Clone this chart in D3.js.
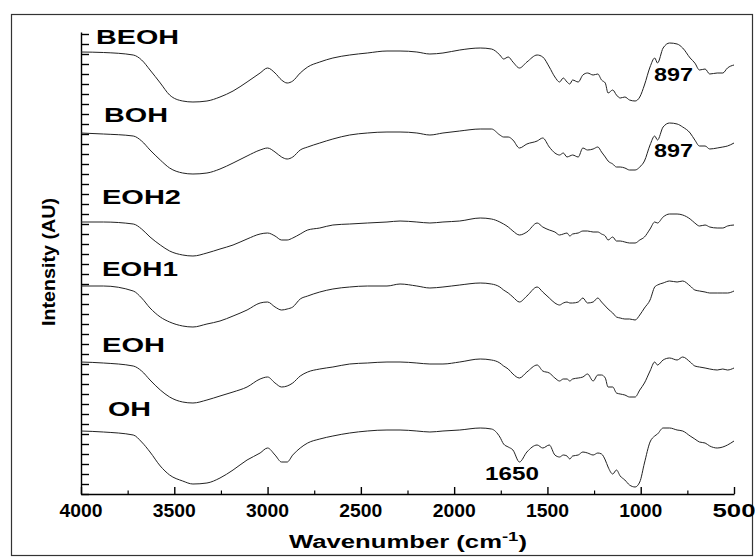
<!DOCTYPE html>
<html>
<head>
<meta charset="utf-8">
<script src="https://cdn.jsdelivr.net/npm/d3@7"></script>
<style>
  html, body { margin: 0; padding: 0; background: #fff; }
  svg { display: block; }
  text { font-family: "Liberation Sans", Arial, sans-serif; fill: #000; }
</style>
</head>
<body>
<svg id="chart" width="755" height="558"></svg>
<script>
// ---- Data ----
const wavenumbers = [4000,3880,3720,3675,3630,3575,3525,3455,3400,3325,
  3255,3185,3110,3040,3000,2960,2925,2895,2865,2825,
  2785,2720,2650,2560,2465,2360,2290,2200,2130,2060,
  1970,1860,1800,1755,1735,1710,1685,1650,1610,1555,
  1525,1490,1460,1435,1415,1395,1380,1365,1335,1310,
  1285,1255,1230,1210,1190,1175,1150,1130,1110,1085,
  1060,1030,1005,980,950,925,910,880,845,805,
  775,735,710,685,655,630,590,560,535,500];

const BEOH = [44.2,44.15,43.9,43.4,42.4,41.1,39.9,39.3,39.2,39.3,
  39.7,40.3,41.2,42.1,42.6,42.1,41.4,41.1,41.3,42.1,
  42.7,43.2,43.6,43.9,44.1,44.3,44.3,44.2,44.0,44.1,
  44.4,44.6,44.5,43.9,43.5,43.7,43.2,42.6,43.2,43.9,
  43.7,42.7,41.7,41.2,41.6,41.2,41.0,41.4,41.2,41.9,
  42.1,41.9,42.0,41.4,41.1,40.1,40.4,39.9,39.6,39.7,
  39.4,39.3,39.7,40.9,42.7,43.6,43.1,44.6,45.1,45.0,
  44.6,43.6,43.1,42.4,42.5,42.0,42.1,42.1,42.6,42.9];

const BOH = [36.1,36.0,35.8,35.3,34.4,33.4,32.6,32.1,32.0,32.1,
  32.5,33.1,33.8,34.4,34.6,34.2,33.7,33.5,33.7,34.4,
  34.7,35.1,35.5,35.9,36.1,36.2,36.2,36.1,35.9,36.1,
  36.3,36.5,36.5,35.9,35.7,35.7,35.4,34.6,35.0,35.3,
  35.6,34.7,34.1,33.9,34.1,33.7,33.8,33.9,33.7,34.6,
  34.4,34.5,34.7,34.2,33.7,33.3,33.0,32.7,32.7,32.6,
  32.4,32.4,32.7,33.3,34.9,35.8,35.4,36.7,37.1,37.0,
  36.7,36.1,35.4,34.8,34.8,34.5,34.6,34.7,34.8,35.1];

const EOH2 = [27.2,27.2,27.0,26.5,25.7,24.9,24.3,23.9,23.8,24.1,
  24.5,24.9,25.5,26.0,26.1,25.8,25.4,25.4,25.6,26.0,
  26.4,26.6,26.9,27.0,27.1,27.2,27.3,27.2,27.1,27.2,
  27.3,27.6,27.5,27.2,27.0,26.7,26.3,25.9,26.2,27.1,
  26.7,26.4,26.2,25.9,26.0,26.1,25.8,26.0,26.1,26.3,
  26.3,26.2,26.2,26.0,25.8,25.4,25.7,25.3,25.3,25.2,
  25.1,25.1,25.4,25.7,26.5,27.2,27.1,27.7,28.0,28.0,
  27.9,27.5,27.1,26.8,26.9,26.7,26.6,26.6,26.8,26.9];

const EOH1 = [20.8,20.8,20.3,19.6,18.6,17.7,17.2,16.8,16.7,17.0,
  17.3,17.8,18.4,19.1,19.2,18.7,18.4,18.5,18.7,19.5,
  19.8,20.2,20.5,20.7,20.8,20.8,21.0,20.8,20.6,20.7,
  20.9,21.1,21.0,20.7,20.4,20.1,19.7,19.2,19.8,20.7,
  20.2,19.6,19.1,18.9,19.1,19.2,19.1,19.1,19.2,19.6,
  19.1,19.2,19.6,19.2,18.8,18.5,18.1,17.7,17.6,17.5,
  17.5,17.4,17.9,18.6,19.4,20.7,20.9,21.1,21.3,21.2,
  21.3,20.8,20.4,20.3,20.2,20.1,20.1,20.1,20.1,20.3];

const EOH = [13.2,13.1,12.8,12.3,11.4,10.4,9.7,9.2,9.1,9.4,
  9.8,10.2,10.7,11.5,11.7,11.1,10.7,10.8,11.1,11.8,
  12.2,12.5,12.7,13.0,13.1,13.2,13.2,13.1,13.0,13.0,
  13.2,13.5,13.4,13.1,12.8,12.5,12.0,11.6,12.2,12.9,
  12.3,12.1,11.6,11.3,11.5,11.5,11.3,11.5,11.6,11.7,
  12.0,11.3,11.9,11.9,11.6,10.7,10.7,10.1,10.0,9.9,
  9.7,9.7,10.4,11.1,12.3,13.2,12.9,13.4,13.6,13.4,
  13.7,13.2,12.8,12.7,12.6,12.5,12.4,12.5,12.4,12.6];

const OH = [6.3,6.2,5.9,5.2,4.2,2.8,1.9,1.3,1.0,1.1,
  1.6,2.4,3.4,4.1,4.6,3.9,3.2,3.2,3.9,4.6,
  5.1,5.5,5.8,6.1,6.3,6.4,6.4,6.3,6.2,6.3,
  6.4,6.6,6.5,5.7,5.0,4.7,4.4,3.2,4.2,4.9,
  4.6,4.9,3.9,3.7,3.9,3.8,3.5,3.8,3.9,4.2,
  4.1,3.9,4.1,4.0,3.4,2.7,2.0,2.4,1.8,1.4,
  0.9,0.7,1.2,3.1,5.2,5.8,6.0,6.6,6.6,6.4,
  6.3,5.8,5.5,5.2,5.1,4.8,4.6,4.7,4.9,5.3];

const seriesNames = ["BEOH", "BOH", "EOH2", "EOH1", "EOH", "OH"];
const seriesValues = [BEOH, BOH, EOH2, EOH1, EOH, OH];
const xTickValues = [4000, 3500, 3000, 2500, 2000, 1500, 1000, 500];
const xMinorTicks = [3750, 3250, 2750, 2250, 1750, 1250, 750];
const yTickValues = d3.range(0, 47, 1);

// ---- Layout ----
const svg = d3.select("#chart");
const L = 81, R = 734, T = 32, B = 494;

const x = d3.scaleLinear().domain([4000, 500]).range([L, R]);
const y = d3.scaleLinear().domain([0, 46.2]).range([B, T]);

// outer frame
svg.append("rect")
  .attr("x", 11.5).attr("y", 14.5).attr("width", 741).attr("height", 541)
  .attr("fill", "none").attr("stroke", "#333").attr("stroke-width", 1.2);

// bottom axis (major ticks)
const xAxis = d3.axisBottom(x).tickValues(xTickValues).tickSizeInner(-7).tickSizeOuter(0).tickFormat("");
const gx = svg.append("g").attr("transform", `translate(0,${B})`).call(xAxis);
gx.selectAll("path, line").attr("stroke", "#000").attr("stroke-width", 1.4);
// minor ticks
const xMinor = d3.axisBottom(x).tickValues(xMinorTicks).tickSizeInner(-3.5).tickSizeOuter(0).tickFormat("");
const gxm = svg.append("g").attr("transform", `translate(0,${B})`).call(xMinor);
gxm.select("path").remove();
gxm.selectAll("line").attr("stroke", "#000").attr("stroke-width", 1.2);

// tick labels
svg.append("g").selectAll("text").data(xTickValues).join("text")
  .attr("x", d => x(d)).attr("y", 517)
  .attr("text-anchor", "middle")
  .attr("font-size", 18).attr("font-weight", "bold")
  .attr("textLength", 43).attr("lengthAdjust", "spacingAndGlyphs")
  .text(d => d);

// left axis
const yAxis = d3.axisLeft(y).tickValues(yTickValues).tickSizeInner(-8).tickSizeOuter(0).tickFormat("");
const gy = svg.append("g").attr("transform", `translate(${L},0)`).call(yAxis);
gy.selectAll("path, line").attr("stroke", "#000").attr("stroke-width", 1.4);

// axis titles
const xt = svg.append("text")
  .attr("x", 408).attr("y", 548)
  .attr("text-anchor", "middle")
  .attr("font-size", 18).attr("font-weight", "bold");
xt.append("tspan").text("Wavenumber (cm");
xt.append("tspan").attr("font-size", 13).attr("dy", -7).text("-1");
xt.append("tspan").attr("dy", 7).text(")");
xt.attr("textLength", 238).attr("lengthAdjust", "spacingAndGlyphs");

svg.append("text")
  .attr("transform", "translate(55,262) rotate(-90)")
  .attr("text-anchor", "middle")
  .attr("font-size", 18).attr("font-weight", "bold")
  .attr("textLength", 128).attr("lengthAdjust", "spacingAndGlyphs")
  .text("Intensity (AU)");

// curves
const line = d3.line()
  .x((d, i) => x(wavenumbers[i]))
  .y(d => y(d))
  .curve(d3.curveMonotoneX);

svg.append("g").selectAll("path").data(seriesValues).join("path")
  .attr("d", d => line(d))
  .attr("fill", "none").attr("stroke", "#222").attr("stroke-width", 1);

// series labels
const labelX = [96, 104, 102, 102, 102, 108];
const labelY = [44, 122, 204, 276, 352, 416];
const labelW = [83, 64, 79, 76, 63, 43];
svg.append("g").selectAll("text").data(seriesNames).join("text")
  .attr("x", (d, i) => labelX[i]).attr("y", (d, i) => labelY[i])
  .attr("font-size", 21).attr("font-weight", "bold")
  .attr("textLength", (d, i) => labelW[i]).attr("lengthAdjust", "spacingAndGlyphs")
  .text(d => d);

// peak annotations
const peakLabels = ["897", "897", "1650"];
const peakX = [654, 654, 485];
const peakY = [81, 157, 480];
const peakW = [39, 39, 54];
svg.append("g").selectAll("text").data(peakLabels).join("text")
  .attr("x", (d, i) => peakX[i]).attr("y", (d, i) => peakY[i])
  .attr("font-size", 18).attr("font-weight", "bold")
  .attr("textLength", (d, i) => peakW[i]).attr("lengthAdjust", "spacingAndGlyphs")
  .text(d => d);
</script>
</body>
</html>
